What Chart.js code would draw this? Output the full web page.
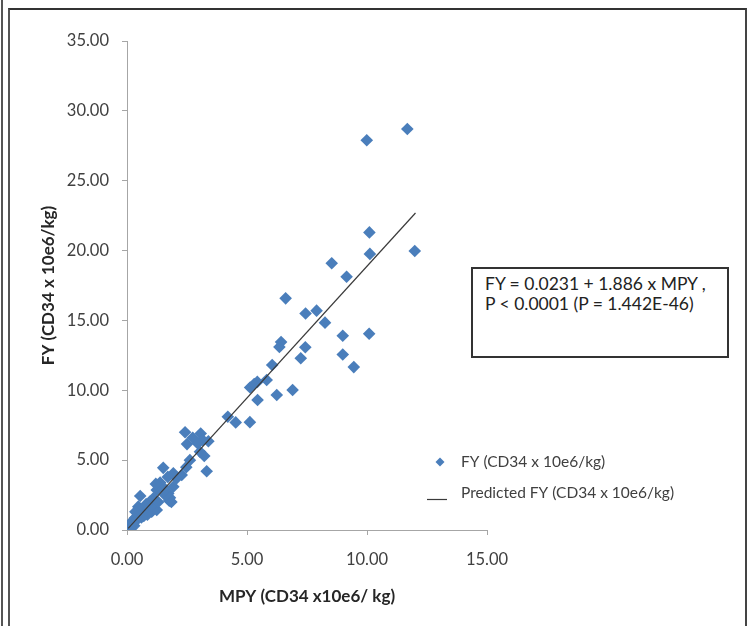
<!DOCTYPE html>
<html>
<head>
<meta charset="utf-8">
<script src="https://cdn.jsdelivr.net/npm/chart.js@4.4.1/dist/chart.umd.min.js"></script>
<style>
  html, body { margin: 0; padding: 0; background: #fff; }
  #wrap { position: relative; width: 747px; height: 626px; overflow: hidden; background: #fff; }
  #outerLine { position: absolute; left: 1px; top: 0; width: 2px; height: 626px; background: #555; }
  #frame { position: absolute; left: 8px; top: 8px; width: 735px; height: 640px;
           border-top: 2px solid #333; border-left: 2px solid #555; border-right: 2px solid #444; }
  #c { position: absolute; left: 0; top: 0; }
  #eq { position: absolute; left: 471px; top: 267px; width: 254px; height: 87px;
        border: 2px solid #333; background: #fff;
        font-family: Lato, "Liberation Sans", sans-serif; font-size: 17.5px; line-height: 20px; color: #222;
        box-sizing: content-box; }
  #eq div { position: absolute; left: 12px; white-space: nowrap; }
</style>
</head>
<body>
<div id="wrap">
  <div id="outerLine"></div>
  <div id="frame"></div>
  <canvas id="c" width="747" height="626"></canvas>
  <div id="eq"><div style="top:5px">FY = 0.0231 + 1.886 x MPY ,</div><div style="top:25px">P &lt; 0.0001 (P = 1.442E-46)</div></div>
</div>
<script>
// ---- data ----
const seriesLabel = 'FY (CD34 x 10e6/kg)';
const predLabel = 'Predicted FY (CD34 x 10e6/kg)';
const xTitle = 'MPY (CD34 x10e6/ kg)';
const yTitle = 'FY (CD34 x 10e6/kg)';

const mpy = [
  11.68, 9.99, 10.10, 10.12, 11.99, 8.53, 9.15, 6.61, 7.44, 7.90,
  8.25, 8.99, 10.09, 6.42, 6.35, 7.43, 7.24, 8.99, 9.45, 6.05,
  5.82, 5.43, 5.13, 5.30, 5.44, 6.24, 6.90, 4.20, 4.53, 5.12,
  2.42, 2.50, 2.74, 3.07, 3.15, 2.95, 3.39, 3.04, 3.22, 3.32,
  2.62, 2.47, 2.28, 2.07, 1.51, 1.93, 1.38, 1.49, 1.93, 1.72,
  1.76, 0.55, 1.24, 1.10, 0.96, 1.58, 1.20, 1.70, 1.79, 1.85,
  0.05, 0.12, 0.25, 0.33, 0.20, 0.40, 0.47, 0.61, 0.50, 0.75,
  0.89, 1.03, 1.17, 0.47, 1.24, 0.70, 0.85, 0.30, 0.15, 0.60,
  1.00, 1.30, 0.80, 0.35
];
const fy = [
  28.70, 27.90, 21.30, 19.76, 19.97, 19.09, 18.13, 16.58, 15.50, 15.70,
  14.84, 13.90, 14.05, 13.45, 13.10, 13.08, 12.29, 12.56, 11.66, 11.81,
  10.74, 10.60, 10.20, 10.45, 9.31, 9.66, 10.02, 8.11, 7.70, 7.72,
  7.00, 6.15, 6.60, 6.90, 6.45, 6.20, 6.35, 5.60, 5.30, 4.20,
  5.00, 4.50, 3.94, 3.70, 4.45, 4.06, 3.40, 3.10, 3.10, 2.62,
  2.10, 2.43, 2.86, 2.27, 2.03, 2.50, 3.30, 3.80, 2.30, 2.00,
  0.19, 0.36, 0.50, 0.86, 0.60, 0.70, 1.00, 1.31, 1.20, 1.20,
  1.55, 1.31, 1.91, 1.67, 1.43, 1.00, 1.10, 0.30, 0.10, 0.90,
  1.70, 2.00, 1.85, 1.30
];
// predicted line end points
const predX = [0.05, 12.02];
const predY = [0.12, 22.69];

const xTicks = [0, 5, 10, 15];
const yTicks = [0, 5, 10, 15, 20, 25, 30, 35];

// ---- build ----
const pts = mpy.map((x, i) => ({x: x, y: fy[i]}));
const predPts = predX.map((x, i) => ({x: x, y: predY[i]}));

const FONT = 'Lato, "Liberation Sans", sans-serif';
const BLUE = '#4a7ebb';

const legendPlugin = {
  id: 'customLegend',
  afterDraw(chart) {
    const ctx = chart.ctx;
    const ds = chart.data.datasets;
    ctx.save();
    ctx.font = '15.5px ' + FONT;
    ctx.fillStyle = '#404040';
    ctx.textBaseline = 'middle';
    ctx.textAlign = 'left';
    // item 1: diamond
    const r = 4.5;
    ctx.beginPath();
    ctx.moveTo(440, 462 - r); ctx.lineTo(440 + r, 462); ctx.lineTo(440, 462 + r); ctx.lineTo(440 - r, 462);
    ctx.closePath();
    ctx.fillStyle = ds[0].backgroundColor;
    ctx.fill();
    ctx.fillStyle = '#404040';
    ctx.fillText(ds[0].label, 461, 462);
    // item 2: line
    ctx.strokeStyle = ds[1].borderColor;
    ctx.lineWidth = 1.2;
    ctx.beginPath(); ctx.moveTo(427, 499.5); ctx.lineTo(447, 499.5); ctx.stroke();
    ctx.fillText(ds[1].label, 461, 493);
    ctx.restore();
  }
};

new Chart(document.getElementById('c'), {
  type: 'scatter',
  data: {
    datasets: [
      {
        label: seriesLabel,
        data: pts,
        pointStyle: 'rectRot',
        pointRadius: 6.3,
        pointHoverRadius: 6.3,
        backgroundColor: BLUE,
        borderColor: BLUE,
        borderWidth: 0,
        order: 2
      },
      {
        type: 'line',
        label: predLabel,
        data: predPts,
        borderColor: '#3a3a3a',
        borderWidth: 1.2,
        pointRadius: 0,
        fill: false,
        order: 1
      }
    ]
  },
  options: {
    responsive: false,
    animation: false,
    devicePixelRatio: 1,
    layout: { padding: { left: 38, top: 41, right: 260, bottom: 19 } },
    plugins: { legend: { display: false }, tooltip: { enabled: false } },
    scales: {
      x: {
        type: 'linear', min: 0, max: 15,
        afterBuildTicks(s) { s.ticks = xTicks.map(v => ({value: v})); },
        afterFit(s) { s.height = 77; },
        ticks: { callback: v => Number(v).toFixed(2), font: { family: FONT, size: 16.5 }, color: '#404040', padding: 15, maxRotation: 0 },
        grid: { drawOnChartArea: false, drawTicks: true, tickLength: 5, color: '#a6a6a6' },
        border: { display: true, color: '#a6a6a6', width: 1 },
        title: { display: true, text: xTitle, font: { family: FONT, size: 17, weight: 'bold' }, color: '#262626', padding: 0 }
      },
      y: {
        type: 'linear', min: 0, max: 35,
        afterBuildTicks(s) { s.ticks = yTicks.map(v => ({value: v})); },
        afterFit(s) { s.width = 89; },
        ticks: { callback: v => Number(v).toFixed(2), font: { family: FONT, size: 16.5 }, color: '#404040', padding: 13 },
        grid: { drawOnChartArea: false, drawTicks: true, tickLength: 5, color: '#a6a6a6' },
        border: { display: true, color: '#a6a6a6', width: 1 },
        title: { display: true, text: yTitle, font: { family: FONT, size: 17, weight: 'bold' }, color: '#262626', padding: 0 }
      }
    }
  },
  plugins: [legendPlugin]
});
</script>
</body>
</html>
